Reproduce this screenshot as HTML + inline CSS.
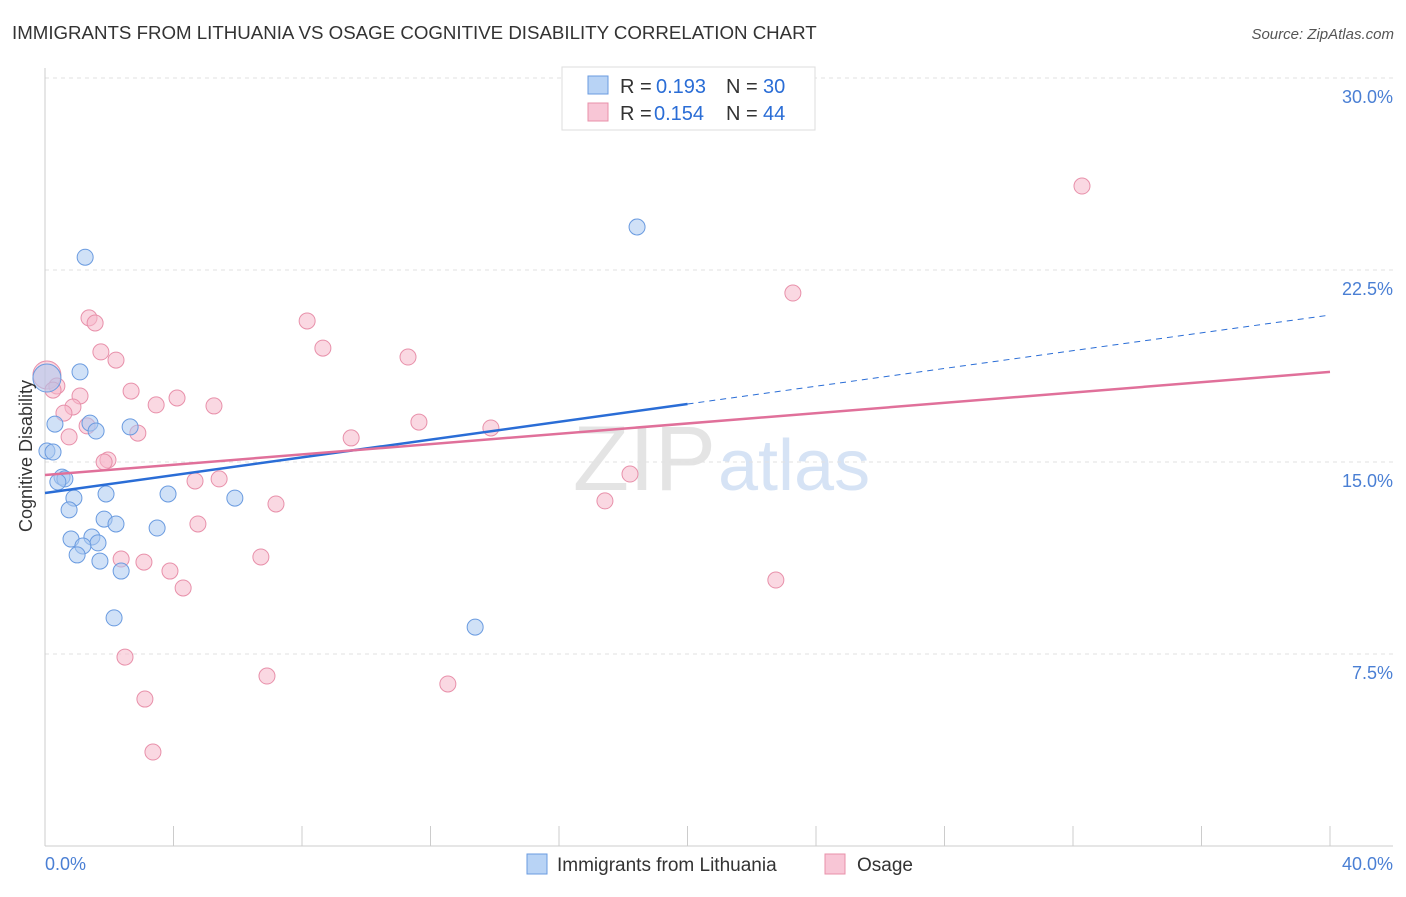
<!DOCTYPE html>
<html><head><meta charset="utf-8">
<style>
body{margin:0;background:#fff;font-family:"Liberation Sans",sans-serif;}
svg text{font-family:"Liberation Sans",sans-serif;}
</style></head>
<body>
<svg width="1406" height="892" id="chart">
<text x="12" y="39" font-size="18.7" fill="#333">IMMIGRANTS FROM LITHUANIA VS OSAGE COGNITIVE DISABILITY CORRELATION CHART</text>
<text x="1394" y="39" font-size="15" fill="#555" font-style="italic" text-anchor="end">Source: ZipAtlas.com</text>
<text x="716" y="490" font-size="92" fill="#e4e4e4" text-anchor="end" font-family="Liberation Serif">ZIP</text>
<text x="718" y="490" font-size="72" fill="#d6e3f5">atlas</text>
<g id="grid"></g>
<g id="marks"></g>
<text x="32" y="456" font-size="18" fill="#333" text-anchor="middle" transform="rotate(-90 32 456)">Cognitive Disability</text>
<text x="45" y="870" font-size="18" fill="#4a7fd4">0.0%</text>
<text x="1393" y="870" font-size="18" fill="#4a7fd4" text-anchor="end">40.0%</text>
<g>
<rect x="562" y="67" width="253" height="63" fill="#fff" stroke="#ddd"/>
<rect x="588" y="76" width="20" height="18" fill="#b8d3f5" stroke="#6a9be0"/>
<rect x="588" y="103" width="20" height="18" fill="#f8c6d6" stroke="#e890aa"/>
<text x="620" y="93" font-size="20" fill="#333">R =</text>
<text x="656" y="93" font-size="20" fill="#2a6dd6">0.193</text>
<text x="726" y="93" font-size="20" fill="#333">N =</text>
<text x="763" y="93" font-size="20" fill="#2a6dd6">30</text>
<text x="620" y="120" font-size="20" fill="#333">R =</text>
<text x="654" y="120" font-size="20" fill="#2a6dd6">0.154</text>
<text x="726" y="120" font-size="20" fill="#333">N =</text>
<text x="763" y="120" font-size="20" fill="#2a6dd6">44</text>
</g>
<g>
<rect x="527" y="854" width="20" height="20" fill="#b8d3f5" stroke="#6a9be0"/>
<text x="557" y="871" font-size="19" fill="#333">Immigrants from Lithuania</text>
<rect x="825" y="854" width="20" height="20" fill="#f8c6d6" stroke="#e890aa"/>
<text x="857" y="871" font-size="19" fill="#333">Osage</text>
</g>
</svg>
<script>
const yTicks=[7.5,15,22.5,30];
const yTickLabels=["7.5%","15.0%","22.5%","30.0%"];
const xTicks=[0,4,8,12,16,20,24,28,32,36,40];
const blueX=[1.25,18.43,1.09,0.31,1.40,1.59,2.65,0.06,0.25,0.53,0.62,0.40,0.90,1.90,3.83,5.91,0.75,1.84,2.21,3.49,0.81,1.46,1.65,1.18,1.00,1.71,2.37,2.15,13.39,0.06];
const blueY=[23.0,24.18,18.52,16.48,16.52,16.21,16.37,15.43,15.39,14.41,14.34,14.22,13.59,13.75,13.75,13.59,13.13,12.77,12.58,12.42,11.99,12.07,11.84,11.72,11.37,11.13,10.74,8.91,8.55,18.28];
const pinkX=[32.28,23.28,1.37,1.56,8.16,8.65,1.74,2.21,11.30,0.06,0.37,0.25,1.09,2.68,4.11,3.46,5.26,0.87,0.59,11.64,1.31,2.89,0.75,9.53,13.88,1.96,1.84,5.42,4.67,18.21,17.43,7.19,4.76,2.37,3.08,6.72,3.89,4.30,22.75,2.49,6.91,12.54,3.11,3.36];
const pinkY=[25.78,21.60,20.63,20.43,20.51,19.45,19.30,18.98,19.10,18.40,17.97,17.81,17.58,17.77,17.50,17.23,17.19,17.15,16.91,16.56,16.41,16.13,15.98,15.94,16.33,15.08,15.0,14.34,14.26,14.53,13.48,13.36,12.58,11.21,11.09,11.29,10.74,10.08,10.39,7.38,6.64,6.33,5.74,3.67];
const blueTrend=[13.79,20.74];
const pinkTrend=[14.49,18.52];
const X=v=>45+v*32.125, Y=v=>846-v*25.6;
const NS="http://www.w3.org/2000/svg";
function mk(t,a,p){const e=document.createElementNS(NS,t);for(const k in a)e.setAttribute(k,a[k]);p.appendChild(e);return e;}
const g=document.getElementById('grid'), m=document.getElementById('marks');
yTicks.forEach((t,i)=>{
 const l=mk('line',{x1:45,x2:1393,y1:Y(t),y2:Y(t),stroke:'#e2e2e2','stroke-dasharray':'4,4'},g);
 
 
 const tx=mk('text',{x:1393,y:Y(t)+25,'font-size':18,fill:'#4a7fd4','text-anchor':'end'},g);
 tx.textContent=yTickLabels[i];
 
 
});
const ax=mk('line',{x1:45,x2:1393,y1:846,y2:846,stroke:'#ccc'},g);


const ay=mk('line',{x1:45,x2:45,y1:68,y2:846,stroke:'#ccc'},g);


xTicks.forEach(t=>{
 const l=mk('line',{x1:X(t),x2:X(t),y1:826,y2:846,stroke:'#ccc'},g);
 
 
});
function dots(xs,ys,fill,stroke,name){
 xs.forEach((x,i)=>{
  const big=(x<0.1&&ys[i]>18);
  const c=mk('circle',{cx:X(x),cy:Y(ys[i]),r:big?14:8,fill:fill,'fill-opacity':0.55,stroke:stroke,'stroke-width':1},m);
  
  
 });
}
dots(pinkX,pinkY,'#f5b8cb','#e890aa','osage-point');
dots(blueX,blueY,'#a9c8f0','#6a9be0','lithuania-point');
const mid=blueTrend[0]+(blueTrend[1]-blueTrend[0])*0.5;
const b1=mk('line',{x1:X(0),y1:Y(blueTrend[0]),x2:X(20),y2:Y(mid),stroke:'#2a6dd6','stroke-width':2.5},m);


const b2=mk('line',{x1:X(20),y1:Y(mid),x2:X(40),y2:Y(blueTrend[1]),stroke:'#2a6dd6','stroke-width':1,'stroke-dasharray':'6,5'},m);


const p1=mk('line',{x1:X(0),y1:Y(pinkTrend[0]),x2:X(40),y2:Y(pinkTrend[1]),stroke:'#e0709a','stroke-width':2.5},m);


</script>
</body></html>
